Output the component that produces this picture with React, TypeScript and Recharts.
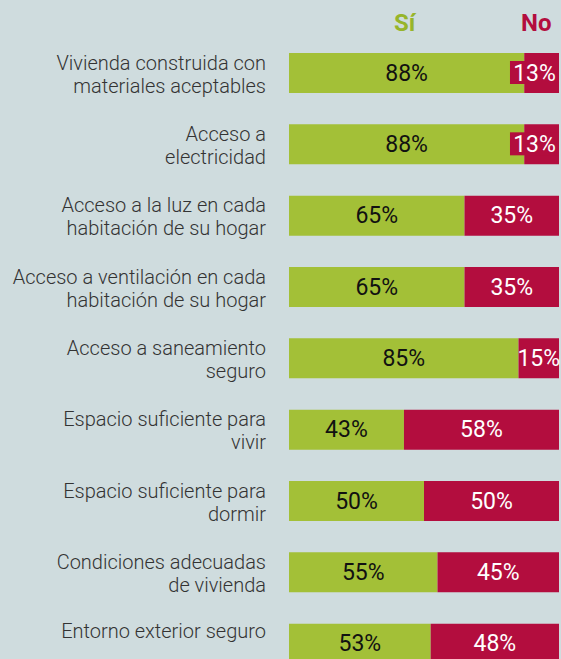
import { Bar, BarChart, LabelList, XAxis, YAxis } from "recharts";

const categories = [
  ["Vivienda construida con", "materiales aceptables"],
  ["Acceso a", "electricidad"],
  ["Acceso a la luz en cada", "habitación de su hogar"],
  ["Acceso a ventilación en cada", "habitación de su hogar"],
  ["Acceso a saneamiento", "seguro"],
  ["Espacio suficiente para", "vivir"],
  ["Espacio suficiente para", "dormir"],
  ["Condiciones adecuadas", "de vivienda"],
  ["Entorno exterior seguro"],
];
const siValues = [88, 88, 65, 65, 85, 43, 50, 55, 53];
const noValues = [13, 13, 35, 35, 15, 58, 50, 45, 48];

const GREEN = "#a3c037";
const RED = "#b30d3e";
const BG = "#cfdcde";
const LABEL_FONT = 23;

const data = categories.map((lines, i) => ({
  name: lines.join(" "),
  si: siValues[i],
  no: noValues[i],
}));

function CategoryTick(props: any) {
  const { x, y, payload } = props;
  const lines = categories[payload.index] ?? [payload.value];
  const common = { textAnchor: "end" as const, fill: "#333", fontSize: 20, fontWeight: 300, fontFamily: "Roboto" };
  if (lines.length === 1) {
    return (
      <text x={x} y={y - 5} {...common}>
        {lines[0]}
      </text>
    );
  }
  return (
    <text {...common}>
      <tspan x={x} y={y - 3}>{lines[0]}</tspan>
      <tspan x={x} y={y + 20}>{lines[1]}</tspan>
    </text>
  );
}

function makeLabel(values: number[], textColor: string, boxColor: string) {
  return function SegmentLabel(props: any) {
    const { x, y, width, height, index } = props;
    const text = `${values[index]}%`;
    const textW = text.length * 0.58 * LABEL_FONT;
    const cy = y + height / 2;
    let cx = x + width / 2;
    let box = null;
    if (width < textW) {
      const boxW = textW + 9;
      cx = x + width - boxW / 2;
      box = <rect x={x + width - boxW} y={cy - 12} width={boxW} height={23} fill={boxColor} />;
    }
    return (
      <g>
        {box}
        <text x={cx} y={cy + 7.5} textAnchor="middle" fill={textColor} fontSize={LABEL_FONT} fontFamily="Roboto">
          {text}
        </text>
      </g>
    );
  };
}

export default function App() {
  return (
    <div style={{ width: 561, height: 659, overflow: "hidden", background: BG, position: "relative" }}>
      <style>{"body{margin:0;overflow:hidden}"}</style>
      <div style={{ position: "absolute", left: 394, top: 9, fontFamily: "Roboto", fontWeight: 700, fontSize: 24, color: "#97b52a" }}>
        Sí
      </div>
      <div style={{ position: "absolute", left: 521, top: 9, fontFamily: "Roboto", fontWeight: 700, fontSize: 24, color: RED }}>
        No
      </div>
      <BarChart
        width={561}
        height={679}
        data={data}
        layout="vertical"
        stackOffset="expand"
        margin={{ top: 37, right: 2, bottom: 0, left: 0 }}
      >
        <XAxis type="number" hide domain={[0, 1]} />
        <YAxis
          type="category"
          dataKey="name"
          width={289}
          axisLine={false}
          tickLine={false}
          tickSize={0}
          tickMargin={23}
          interval={0}
          tick={<CategoryTick />}
        />
        <Bar dataKey="si" stackId="a" fill={GREEN} barSize={40} isAnimationActive={false}>
          <LabelList dataKey="si" content={makeLabel(siValues, "#111", GREEN)} />
        </Bar>
        <Bar dataKey="no" stackId="a" fill={RED} barSize={40} isAnimationActive={false}>
          <LabelList dataKey="no" content={makeLabel(noValues, "#fff", RED)} />
        </Bar>
      </BarChart>
    </div>
  );
}
